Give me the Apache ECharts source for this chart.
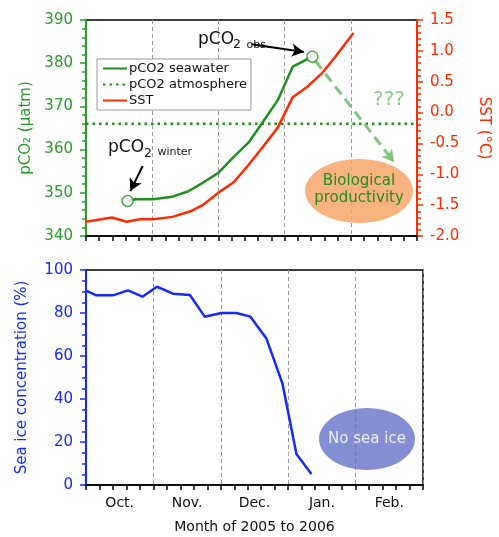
<!DOCTYPE html>
<html>
<head>
<meta charset="utf-8">
<script src="https://cdn.jsdelivr.net/npm/echarts@6/dist/echarts.min.js"></script>
<style>
html,body{margin:0;padding:0;background:#fff;}
#c{width:499px;height:537px;}
</style>
</head>
<body>
<div id="c"></div>
<script>
// Month categories (x axis labels, each centred in its month)
const months = ['Oct.', 'Nov.', 'Dec.', 'Jan.', 'Feb.'];
// Time in months since 1 Oct 2005
const pco2Time = [0.629, 0.752, 1.009, 1.306, 1.539, 1.751, 1.999, 2.231, 2.454, 2.677, 2.899, 3.122, 3.42];
const pco2Sea = [348.1, 348.5, 348.5, 349.1, 350.3, 352.2, 354.6, 358.3, 361.6, 366.5, 371.5, 379.2, 381.5];
const pco2Atm = 366;
const sstTime = [0, 0.392, 0.614, 0.812, 1.009, 1.306, 1.579, 1.776, 1.999, 2.231, 2.454, 2.677, 2.899, 3.122, 3.344, 3.567, 3.764, 4.04];
const sst = [-1.77, -1.70, -1.77, -1.73, -1.73, -1.69, -1.60, -1.49, -1.30, -1.13, -0.85, -0.55, -0.24, 0.25, 0.42, 0.64, 0.90, 1.29];
const iceTime = [0, 0.154, 0.40, 0.623, 0.837, 1.053, 1.291, 1.542, 1.761, 2.009, 2.231, 2.439, 2.677, 2.914, 3.122, 3.344];
const ice = [90.4, 88.2, 88.2, 90.5, 87.6, 92.2, 89.0, 88.4, 78.3, 80.0, 80.0, 78.3, 68.1, 47.3, 14.4, 5.1];
// Axis ranges / ticks
const timeRange = [0, 5];
const pco2Range = [340, 390, 10];
const sstRange = [-2, 1.5, 0.5];
const iceRange = [0, 100, 20];

const GREEN = '#1f8f1f', GREEN_T = '#2a9a2a', RED = '#ff2a00', BLUE = '#1428ff';
const FONT = 'DejaVu Sans';
const pair = (xs, ys) => xs.map((x, i) => [x, ys[i]]);

const timeAxis = (gi) => ({
  type: 'value', gridIndex: gi, min: timeRange[0], max: timeRange[1], interval: 1,
  axisLine: {show: true, onZero: false, lineStyle: {color: '#000', width: 1.5}},
  axisTick: {show: true, inside: false, length: 5, lineStyle: {color: '#000', width: 1.5}},
  minorTick: {show: true, splitNumber: 5, length: 5, lineStyle: {color: '#000', width: 1.5}},
  axisLabel: {show: false},
  splitLine: {show: true, lineStyle: {color: '#999', width: 1, type: [4, 3]}}
});

const yAx = (gi, pos, rng, color, minorN, name, nameGap, fmt, nameRotate) => ({
  type: 'value', gridIndex: gi, position: pos, min: rng[0], max: rng[1], interval: rng[2],
  name: name, nameLocation: 'middle', nameGap: nameGap, nameRotate: nameRotate,
  nameTextStyle: {color: color, fontFamily: FONT, fontSize: 15},
  axisLine: {show: true, onZero: false, lineStyle: {color: color, width: 2}},
  axisTick: {show: true, length: 6, lineStyle: {color: color, width: 1.5}},
  minorTick: {show: true, splitNumber: minorN, length: 4, lineStyle: {color: color, width: 1.5}},
  axisLabel: {color: color, fontFamily: FONT, fontSize: 15, margin: 13, formatter: fmt},
  splitLine: {show: false}
});

const chart = echarts.init(document.getElementById('c'), null, {renderer: 'canvas'});
const option = {
  animation: false,
  backgroundColor: '#fff',
  textStyle: {fontFamily: FONT},
  grid: [
    {left: 86, top: 20, width: 337, height: 216, show: true, borderColor: '#000', borderWidth: 1.5, backgroundColor: 'transparent'},
    {left: 86, top: 270, width: 337, height: 215, show: true, borderColor: '#000', borderWidth: 1.5, backgroundColor: 'transparent'}
  ],
  xAxis: [
    timeAxis(0),
    timeAxis(1),
    {
      type: 'category', gridIndex: 1, position: 'bottom', data: months, boundaryGap: true,
      axisLine: {show: false}, axisTick: {show: false}, splitLine: {show: false},
      axisLabel: {color: '#111', fontFamily: FONT, fontSize: 14, margin: 11},
      name: 'Month of 2005 to 2006', nameLocation: 'middle', nameGap: 35,
      nameTextStyle: {color: '#111', fontFamily: FONT, fontSize: 14}
    }
  ],
  yAxis: [
    yAx(0, 'left', pco2Range, GREEN_T, 5, 'pCO₂ (µatm)', 52, v => v, 90),
    yAx(0, 'right', sstRange, RED, 5, 'SST (°C)', 59, v => v.toFixed(1), -90),
    yAx(1, 'left', iceRange, BLUE, 4, 'Sea ice concentration (%)', 56, v => v, 90)
  ],
  legend: {
    left: 97, top: 59, orient: 'vertical',
    data: ['pCO2 seawater', 'pCO2 atmosphere', 'SST'],
    itemWidth: 24, itemHeight: 12, itemGap: 3,
    padding: [3, 4, 3, 5],
    itemStyle: {opacity: 0},
    backgroundColor: '#fff', borderColor: '#999', borderWidth: 1, borderRadius: 0,
    textStyle: {color: '#111', fontFamily: FONT, fontSize: 13, padding: [0, 0, 0, -3]}
  },
  series: [
    {
      name: 'pCO2 seawater', type: 'line', xAxisIndex: 0, yAxisIndex: 0,
      data: pair(pco2Time, pco2Sea), symbol: 'none', z: 4,
      lineStyle: {color: GREEN, width: 2.5}, itemStyle: {color: GREEN}
    },
    {
      name: 'pCO2 atmosphere', type: 'line', xAxisIndex: 0, yAxisIndex: 0,
      data: [[timeRange[0], pco2Atm], [timeRange[1], pco2Atm]], symbol: 'none', z: 3,
      lineStyle: {color: GREEN, width: 2.5, type: [2.5, 4]}, itemStyle: {color: GREEN}
    },
    {
      name: 'SST', type: 'line', xAxisIndex: 0, yAxisIndex: 1,
      data: pair(sstTime, sst), symbol: 'none', z: 3,
      lineStyle: {color: RED, width: 2.5}, itemStyle: {color: RED}
    },
    {
      name: 'markers', type: 'scatter', xAxisIndex: 0, yAxisIndex: 0, z: 6,
      data: [[pco2Time[0], pco2Sea[0]], [pco2Time[pco2Time.length - 1], pco2Sea[pco2Sea.length - 1]]],
      symbol: 'circle', symbolSize: 11,
      itemStyle: {color: '#fff', borderColor: GREEN, borderWidth: 1.5},
      markLine: {
        silent: true, symbol: ['none', 'arrow'], symbolSize: [10, 12],
        label: {show: false},
        data: [
          [{coord: [0.856, 356.2], lineStyle: {color: '#000', width: 2, type: 'solid'}}, {coord: [0.67, 350.4]}],
          [{coord: [2.50, 384.4], lineStyle: {color: '#000', width: 2, type: 'solid'}}, {coord: [3.29, 382.6]}],
          [{coord: [3.467, 380.5], lineStyle: {color: '#82c382', width: 3, type: [10, 6]}}, {coord: [4.654, 357.1]}]
        ]
      }
    },
    {
      name: 'Sea ice', type: 'line', xAxisIndex: 1, yAxisIndex: 2,
      data: pair(iceTime, ice), symbol: 'none', z: 3,
      lineStyle: {color: BLUE, width: 2.5}
    }
  ],
  graphic: [
    {type: 'ellipse', shape: {cx: 359, cy: 191, rx: 54, ry: 32}, style: {fill: 'rgba(246,160,95,0.8)'}, z: 1},
    {type: 'text', x: 359, y: 190, style: {text: 'Biological\nproductivity', fill: GREEN, font: '15px "DejaVu Sans"', align: 'center', verticalAlign: 'middle', lineHeight: 17}, z: 5},
    {type: 'text', x: 389, y: 100, style: {text: '???', fill: '#8cc88c', font: '20px "DejaVu Sans"', align: 'center', verticalAlign: 'middle'}, z: 5},
    {type: 'ellipse', shape: {cx: 367, cy: 439, rx: 48, ry: 31}, style: {fill: 'rgba(90,105,195,0.75)'}, z: 1},
    {type: 'text', x: 367, y: 439, style: {text: 'No sea ice', fill: '#eef0fa', font: '15px "DejaVu Sans"', align: 'center', verticalAlign: 'middle'}, z: 5},
    {type: 'text', x: 108, y: 148, style: {text: 'pCO', fill: '#111', font: '17px "DejaVu Sans"', verticalAlign: 'middle'}, z: 5},
    {type: 'text', x: 144, y: 154, style: {text: '2', fill: '#111', font: '12.5px "DejaVu Sans"', verticalAlign: 'middle'}, z: 5},
    {type: 'text', x: 157.5, y: 152, style: {text: 'winter', fill: '#111', font: '11px "DejaVu Sans"', verticalAlign: 'middle'}, z: 5},
    {type: 'text', x: 198, y: 40, style: {text: 'pCO', fill: '#111', font: '17px "DejaVu Sans"', verticalAlign: 'middle'}, z: 5},
    {type: 'text', x: 233, y: 45, style: {text: '2', fill: '#111', font: '12.5px "DejaVu Sans"', verticalAlign: 'middle'}, z: 5},
    {type: 'text', x: 246.5, y: 45.5, style: {text: 'obs.', fill: '#111', font: '11px "DejaVu Sans"', verticalAlign: 'middle'}, z: 5}
  ]
};
chart.setOption(option);
</script>
</body>
</html>
